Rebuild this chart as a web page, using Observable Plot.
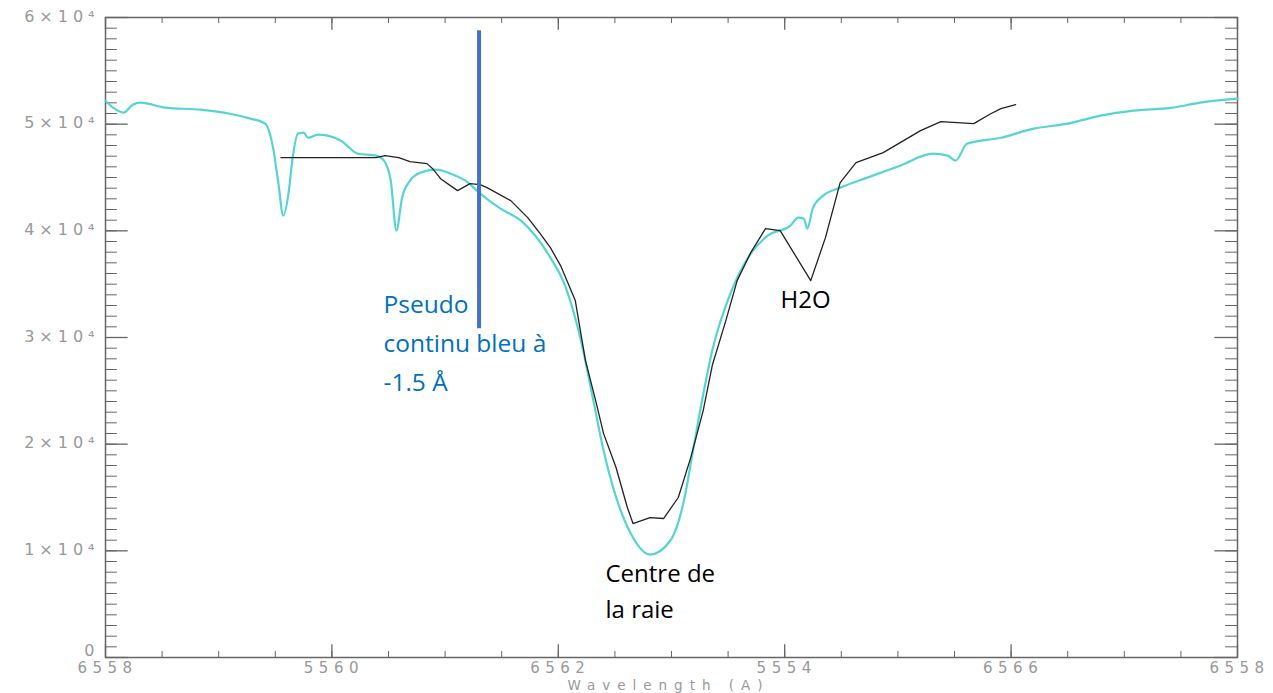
<!DOCTYPE html>
<html>
<head>
<meta charset="utf-8">
<script src="https://cdn.jsdelivr.net/npm/d3@7"></script>
<script src="https://cdn.jsdelivr.net/npm/@observablehq/plot@0.6"></script>
<style>
  body { margin: 0; background: #fff; }
  #chart svg { display: block; }
  g[font-size="16"] text { letter-spacing: 5px; }
  g[font-size="15"] text { letter-spacing: 5.5px; }
  g[font-size="13.5"] text { letter-spacing: 7px; }
</style>
</head>
<body>
<div id="chart"></div>
<script>
// Cyan (synthetic / reference) spectrum
const lambdaCyan = [6558.00, 6558.08, 6558.16, 6558.24, 6558.31, 6558.53, 6558.84, 6559.10, 6559.28, 6559.41,
  6559.48, 6559.53, 6559.57, 6559.62, 6559.65, 6559.70, 6559.75, 6559.79, 6559.88, 6560.08,
  6560.23, 6560.39, 6560.46, 6560.52, 6560.57, 6560.62, 6560.69, 6560.78, 6560.92, 6561.05,
  6561.18, 6561.31, 6561.49, 6561.67, 6561.93, 6562.06, 6562.20, 6562.31, 6562.40, 6562.52,
  6562.64, 6562.81, 6562.99, 6563.11, 6563.19, 6563.27, 6563.36, 6563.52, 6563.70, 6563.85,
  6564.05, 6564.12, 6564.17, 6564.20, 6564.25, 6564.34, 6564.49, 6564.73, 6565.02, 6565.31,
  6565.44, 6565.51, 6565.61, 6565.91, 6566.20, 6566.50, 6566.79, 6567.08, 6567.43, 6567.67, 6568.00];
const intensityCyan = [52200, 51450, 51080, 51830, 52020, 51550, 51360, 50980, 50520, 50050,
  47800, 44240, 41420, 43770, 46580, 49110, 49200, 48730, 49020, 48450,
  47230, 47050, 46580, 44700, 40020, 43110, 44700, 45450, 45740, 45360,
  44700, 43490, 42080, 40960, 37490, 34860, 29710, 24080, 19400, 14720,
  11620, 9650, 10970, 14710, 19400, 24090, 28770, 34110, 37860, 39550,
  40490, 41240, 41140, 40210, 42170, 43300, 44050, 44990, 46110, 47230,
  47050, 46580, 48170, 48730, 49580, 50050, 50800, 51270, 51550, 52020, 52390];

// Black (observed) spectrum
const lambdaBlack = [6559.55, 6560.39, 6560.47, 6560.59, 6560.69, 6560.84, 6560.89, 6560.96, 6561.11, 6561.22,
  6561.31, 6561.37, 6561.58, 6561.73, 6561.84, 6561.93, 6562.02, 6562.15, 6562.24, 6562.33,
  6562.40, 6562.51, 6562.61, 6562.66, 6562.81, 6562.93, 6563.06, 6563.17, 6563.28, 6563.36,
  6563.48, 6563.58, 6563.70, 6563.83, 6563.96, 6564.23, 6564.36, 6564.49, 6564.63, 6564.87,
  6565.02, 6565.20, 6565.38, 6565.67, 6565.82, 6565.91, 6566.04];
const intensityBlack = [46860, 46860, 47050, 46860, 46490, 46300, 45830, 44890, 43770, 44420,
  44330, 44050, 42830, 41240, 39740, 38430, 36740, 33460, 27830, 24090,
  20990, 17810, 14060, 12560, 13120, 13030, 15000, 18740, 23150, 27370,
  31580, 35330, 37960, 40210, 40020, 35330, 39360, 44520, 46390, 47330,
  48270, 49390, 50230, 50050, 50980, 51450, 51830];

// Axis ticks and labels
const xMajorTicks = [6558, 6560, 6562, 6564, 6566, 6568];
const xTickLabels = ["6558", "5560", "6562", "5554", "6566", "6558"];
const yMajorTicks = [0, 10000, 20000, 30000, 40000, 50000, 60000];
const yTickLabels = ["0", "1×10⁴", "2×10⁴", "3×10⁴", "4×10⁴", "5×10⁴", "6×10⁴"];
const xMinorTicks = d3.range(6558, 6568.001, 0.5);
const yMinorTicks = d3.range(0, 60001, 1000);
const xTitle = ["Wavelength (A)"];

// Annotations
const pseudoLambda = [6561.3];
const pseudoText = ["Pseudo\ncontinu bleu à\n-1.5 Å"];
const centreText = ["Centre de\nla raie"];
const h2oText = ["H2O"];

const cyan = lambdaCyan.map((x, i) => ({x, y: intensityCyan[i]}));
const black = lambdaBlack.map((x, i) => ({x, y: intensityBlack[i]}));
const xTicks = xMajorTicks.map((x, i) => ({x, label: xTickLabels[i]}));
const yTicks = yMajorTicks.map((y, i) => ({y, label: yTickLabels[i]}));
const yTickZero = yTicks.filter(d => d.y === 0);
const yTickRest = yTicks.filter(d => d.y !== 0);

const axisColor = "#666";
const labelColor = "#999";

const chart = Plot.plot({
  width: 1273,
  height: 693,
  marginLeft: 105,
  marginRight: 36,
  marginTop: 17,
  marginBottom: 36,
  x: {domain: [6558, 6568], axis: null},
  y: {domain: [0, 60000], axis: null},
  style: {fontFamily: "DejaVu Sans, sans-serif", background: "#fff"},
  marks: [
    // minor ticks (inside)
    Plot.ruleX(xMinorTicks, {x: d => d, y1: 0, y2: 560, stroke: axisColor, strokeWidth: 1}),
    Plot.ruleX(xMinorTicks, {x: d => d, y1: 60000, y2: 59440, stroke: axisColor, strokeWidth: 1}),
    Plot.ruleY(yMinorTicks, {y: d => d, x1: 6558, x2: 6558.105, stroke: axisColor, strokeWidth: 1}),
    Plot.ruleY(yMinorTicks, {y: d => d, x1: 6568, x2: 6567.895, stroke: axisColor, strokeWidth: 1}),
    // major ticks
    Plot.ruleX(xMajorTicks, {x: d => d, y1: 0, y2: 1200, stroke: axisColor, strokeWidth: 1.3}),
    Plot.ruleX(xMajorTicks, {x: d => d, y1: 60000, y2: 58800, stroke: axisColor, strokeWidth: 1.3}),
    Plot.ruleY(yMajorTicks, {y: d => d, x1: 6558, x2: 6558.2, stroke: axisColor, strokeWidth: 1.3}),
    Plot.ruleY(yMajorTicks, {y: d => d, x1: 6568, x2: 6567.8, stroke: axisColor, strokeWidth: 1.3}),
    Plot.frame({stroke: axisColor, strokeWidth: 1.5}),
    // tick labels
    Plot.text(xTicks, {x: "x", y: 0, text: "label", dy: 11, dx: 2, fill: labelColor, fontSize: 15}),
    Plot.text(yTickRest, {x: 6558, y: "y", text: "label", dx: -6, dy: -1, textAnchor: "end", fill: labelColor, fontSize: 16}),
    Plot.text(yTickZero, {x: 6558, y: "y", text: "label", dx: -6, dy: -7, textAnchor: "end", fill: labelColor, fontSize: 16}),
    Plot.text(xTitle, {x: 6563, y: 0, text: d => d, dy: 28, dx: -3, fill: labelColor, fontSize: 13.5}),
    // spectra
    Plot.line(cyan, {x: "x", y: "y", stroke: "#55d4d4", strokeWidth: 2.2, curve: "monotone-x"}),
    Plot.line(black, {x: "x", y: "y", stroke: "#222", strokeWidth: 1.3, curve: "linear"}),
    // pseudo-continuum marker
    Plot.ruleX(pseudoLambda, {x: d => d, y1: 30830, y2: 58760, stroke: "#4472c4", strokeWidth: 4}),
    // annotations
    Plot.text(pseudoText, {x: 6560.456, y: 34900, text: d => d, textAnchor: "start", lineAnchor: "top",
      fill: "#0070c0", fontSize: 24.5, lineHeight: 1.6, fontFamily: "Open Sans"}),
    Plot.text(centreText, {x: 6562.417, y: 9460, text: d => d, textAnchor: "start", lineAnchor: "top",
      fill: "#000", fontSize: 24, lineHeight: 1.5, fontFamily: "Open Sans"}),
    Plot.text(h2oText, {x: 6563.963, y: 34390, text: d => d, textAnchor: "start", lineAnchor: "top",
      fill: "#000", fontSize: 24, fontFamily: "Open Sans"})
  ]
});
document.getElementById("chart").appendChild(chart);
</script>
</body>
</html>
